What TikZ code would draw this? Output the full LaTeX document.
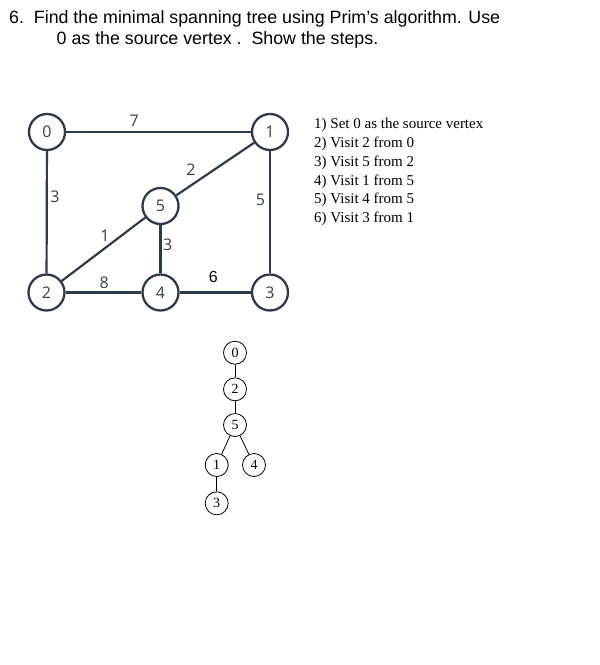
\documentclass[tikz,border=0pt]{standalone}
\usepackage{fontspec}
\setmainfont{Liberation Serif}
\newfontfamily\titlefont{Liberation Sans}
\newfontfamily\graphfont{Open Sans}
\definecolor{slate}{HTML}{2E3B4C}
\definecolor{slatetext}{HTML}{34404F}

\begin{document}
\begin{tikzpicture}[x=1pt, y=-1pt,
  vertex/.style={circle, draw=slate, line width=2.3pt, fill=white, minimum size=36pt, inner sep=0pt, font=\graphfont\fontsize{16}{18}\selectfont, text=slatetext},
  edge/.style={draw=slate, line width=2.2pt},
  weight/.style={font=\graphfont\fontsize{16}{18}\selectfont, text=slatetext, inner sep=0pt},
  treenode/.style={circle, draw=black, line width=0.8pt, fill=white, minimum size=23pt, inner sep=0pt, font=\fontsize{14}{16}\selectfont},
  treeedge/.style={draw=black, line width=0.8pt}]
\useasboundingbox (0,0) rectangle (600,665);
% title
\node[anchor=base west, inner sep=0pt, font=\titlefont\fontsize{17.8}{20}\selectfont] (title1) at (9,23) {6.\ \ Find the minimal spanning tree using Prim’s algorithm. Use};
\node[anchor=base west, inner sep=0pt, font=\titlefont\fontsize{17.8}{20}\selectfont] (title2) at (56.5,44.5) {0 as the source vertex .\ \ Show the steps.};
% graph
\node[vertex] (v0) at (47,132) {0};
\node[vertex] (v1) at (270,132) {1};
\node[vertex] (v5) at (160.5,206) {5};
\node[vertex] (v2) at (46.5,292.5) {2};
\node[vertex] (v4) at (160.5,292.5) {4};
\node[vertex] (v3) at (270,292.5) {3};
\draw[edge] (v0) -- (v1);
\draw[edge] (v0) -- (v2);
\draw[edge] (v1) -- (v5);
\draw[edge] (v1) -- (v3);
\draw[edge] (v2) -- (v5);
\draw[edge] (v5) -- (v4);
\draw[edge] (v2) -- (v4);
\draw[edge] (v4) -- (v3);
\node[weight] (w01) at (134.3,120.5) {7};
\node[weight] (w02) at (55,196.5) {3};
\node[weight] (w15) at (191,169.5) {2};
\node[weight] (w13) at (260.5,200) {5};
\node[weight] (w25) at (105,236) {1};
\node[weight] (w54) at (167.7,245) {3};
\node[weight] (w24) at (104.3,282.5) {8};
\node[weight, font=\titlefont\fontsize{16}{18}\selectfont, text=black] (w43) at (213.3,276.5) {6};
% steps
\node[anchor=north west, inner sep=0pt, align=left, font=\fontsize{15}{18.8}\selectfont] (steps) at (314,118) {1) Set 0 as the source vertex\\2) Visit 2 from 0\\3) Visit 5 from 2\\4) Visit 1 from 5\\5) Visit 4 from 5\\6) Visit 3 from 1};
% tree
\node[treenode] (t0) at (235,352.7) {0};
\node[treenode] (t2) at (235,389.3) {2};
\node[treenode] (t5) at (235,425) {5};
\node[treenode] (t1) at (216.7,465) {1};
\node[treenode] (t4) at (254,465) {4};
\node[treenode] (t3) at (216.7,503.3) {3};
\draw[treeedge] (t0) -- (t2);
\draw[treeedge] (t2) -- (t5);
\draw[treeedge] (t5) -- (t1);
\draw[treeedge] (t5) -- (t4);
\draw[treeedge] (t1) -- (t3);
\end{tikzpicture}
\end{document}
